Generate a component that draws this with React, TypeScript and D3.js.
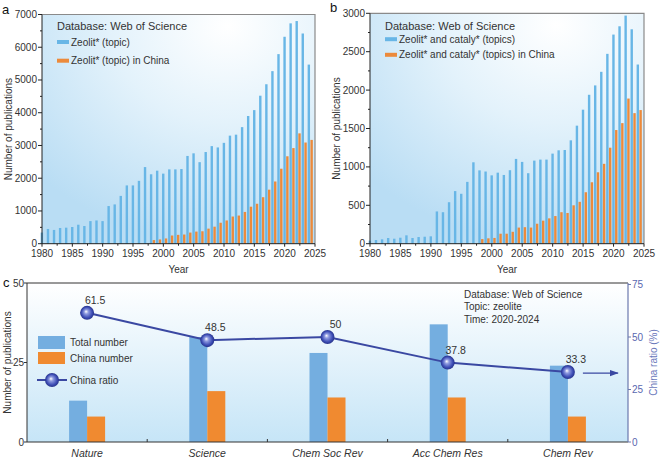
import * as d3 from 'd3';

// ---- data ----
const YEARS = d3.range(1980, 2025);
const CHINA_FROM = 1998;

// a: Zeolit* (topic)
const ZEOLITE_ALL = [
  340, 450, 420, 480, 490, 510, 580, 540, 690, 710, 690,
  1150, 1200, 1460, 1780, 1780, 1920, 2340, 2120, 2230, 2140,
  2270, 2270, 2280, 2680, 2760, 2490, 2800, 2980, 2940, 3080,
  3300, 3330, 3560, 3900, 4080, 4520, 4870, 5270, 5790, 6320,
  6730, 6800, 6420, 5470
];
const ZEOLITE_CHINA = [
  110, 130, 160, 250, 270, 280, 340, 370, 380, 460, 520, 640, 710, 830,
  860, 970, 1130, 1220, 1420, 1650, 1900, 2290, 2670, 2920, 3370, 3090, 3170
];

// b: Zeolit* and cataly* (topics)
const CATALY_ALL = [
  40, 48, 57, 74, 65, 78, 109, 74, 87, 91, 96,
  420, 410, 540, 685, 650, 805, 1060, 955, 940, 890,
  925, 895, 957, 1104, 1065, 918, 1082, 1095, 1095, 1173,
  1216, 1220, 1346, 1537, 1745, 1939, 2061, 2238, 2472, 2723,
  2831, 2970, 2792, 2333
];
const CATALY_CHINA = [
  60, 70, 75, 130, 130, 155, 210, 215, 210, 260, 300, 330, 360, 410,
  400, 500, 545, 670, 800, 930, 1040, 1250, 1480, 1570, 1890, 1700, 1740
];

// c: journals 2020-2024
const JOURNALS = ['Nature', 'Science', 'Chem Soc Rev', 'Acc Chem Res', 'Chem Rev'];
const JOURNAL_TOTAL = [13, 33, 28, 37, 24];
const JOURNAL_CHINA = [8, 16, 14, 14, 8];
const CHINA_RATIO = [61.5, 48.5, 50, 37.8, 33.3];

const FONT = "'Liberation Sans', Arial, Helvetica, sans-serif";
const TXT = '#333';
const BLUE = '#68b6e6';
const ORANGE = '#ec8a3b';
const NAVY = '#3a48a2';

interface YearPanelProps {
  id: string;
  tag: string;
  left: number;
  right: number;
  top: number;
  bottom: number;
  yMax: number;
  yStep: number;
  total: number[];
  china: number[];
  legendAll: string;
  legendChina: string;
  legendY: number[];
}

function YearPanel({ id, tag, left, right, top, bottom, yMax, yStep, total, china, legendAll, legendChina, legendY }: YearPanelProps) {
  const x = d3.scaleLinear().domain([1980, 2025]).range([left, right]);
  const y = d3.scaleLinear().domain([0, yMax]).range([bottom, top]);
  const majorY = d3.range(0, yMax + 1, yStep);
  const minorY = d3.range(yStep / 2, yMax, yStep);
  const majorX = d3.range(1980, 2026, 5);
  const minorX = d3.range(1982.5, 2025, 5);
  const bw = 2.4;
  const lx = left + 15;

  return (
    <g>
      <defs>
        <radialGradient id={id} cx="0.68" cy="0.05" r="0.95">
          <stop offset="0" stopColor="#ffffff" />
          <stop offset="0.45" stopColor="#e3f2fb" />
          <stop offset="1" stopColor="#b9ddf4" />
        </radialGradient>
      </defs>
      <rect x={left} y={top} width={right - left} height={bottom - top} fill={`url(#${id})`} />
      {YEARS.map((yr, i) => (
        <rect key={'t' + yr} x={x(yr) - 1.3} y={y(total[i])} width={bw} height={bottom - y(total[i])} fill={BLUE} />
      ))}
      {china.map((v, i) => {
        const yr = CHINA_FROM + i;
        return <rect key={'c' + yr} x={x(yr) + 1.5} y={y(v)} width={bw} height={bottom - y(v)} fill={ORANGE} />;
      })}
      {/* frame */}
      <path d={`M${left},${top}H${right}V${bottom}`} fill="none" stroke="#8a8a8a" strokeWidth={1.2} />
      <line x1={left} x2={left} y1={top} y2={bottom} stroke="#222" strokeWidth={1} />
      <line x1={left} x2={right} y1={bottom} y2={bottom} stroke="#222" strokeWidth={1} />
      {majorY.map(v => (
        <g key={'my' + v}>
          <line x1={left - 4} x2={left} y1={y(v)} y2={y(v)} stroke="#222" />
          <text x={left - 5} y={y(v) + 3.5} textAnchor="end" fontSize={10} fill={TXT}>{v}</text>
        </g>
      ))}
      {minorY.map(v => (
        <line key={'ny' + v} x1={left - 2} x2={left} y1={y(v)} y2={y(v)} stroke="#222" />
      ))}
      {majorX.map(v => (
        <g key={'mx' + v}>
          <line x1={x(v)} x2={x(v)} y1={bottom} y2={bottom + 3} stroke="#222" />
          <text x={x(v)} y={bottom + 13} textAnchor="middle" fontSize={10} fill={TXT}>{v}</text>
        </g>
      ))}
      {minorX.map(v => (
        <line key={'nx' + v} x1={x(v)} x2={x(v)} y1={bottom} y2={bottom + 2} stroke="#222" />
      ))}
      <text x={(left + right) / 2} y={bottom + 29} textAnchor="middle" fontSize={10} fill={TXT}>Year</text>
      <text transform={`translate(${left - 30},${(top + bottom) / 2}) rotate(-90)`} textAnchor="middle" fontSize={10} fill={TXT}>
        Number of publications
      </text>
      <text x={left - 40} y={top - 1} fontSize={13} fill="#111">{tag}</text>
      {/* legend */}
      <text x={lx} y={legendY[0] + 4} fontSize={11} fill={TXT}>Database: Web of Science</text>
      <rect x={lx} y={legendY[1] - 2} width={12} height={4} fill={BLUE} />
      <text x={lx + 14} y={legendY[1] + 3.5} fontSize={10} fill={TXT}>{legendAll}</text>
      <rect x={lx} y={legendY[2] - 2} width={12} height={4} fill={ORANGE} />
      <text x={lx + 14} y={legendY[2] + 3.5} fontSize={10} fill={TXT}>{legendChina}</text>
    </g>
  );
}

function JournalPanel() {
  const left = 27;
  const right = 628;
  const top = 283;
  const bottom = 442;
  const x = d3.scaleBand<string>().domain(JOURNALS).range([left, right]).padding(0);
  const yL = d3.scaleLinear().domain([0, 50]).range([bottom, top]);
  const yR = d3.scaleLinear().domain([0, 75]).range([bottom, top + 1.5]);
  const cx = (j: string) => (x(j) ?? 0) + x.bandwidth() / 2;
  const bw = 18;
  const line = d3.line<number>()
    .x((_, i) => cx(JOURNALS[i]))
    .y(v => yR(v));
  const last = JOURNALS.length - 1;
  const ax = cx(JOURNALS[last]) + 15;
  const ay = yR(CHINA_RATIO[last]) + 1;

  const sphere = (px: number, py: number, r: number, key: string) => (
    <circle key={key} cx={px} cy={py} r={r} fill="url(#sphere)" />
  );

  return (
    <g>
      <defs>
        <linearGradient id="bgc" x1="0" y1="0" x2="0" y2="1">
          <stop offset="0" stopColor="#ffffff" />
          <stop offset="1" stopColor="#c6e5f7" />
        </linearGradient>
        <radialGradient id="sphere" cx="0.5" cy="0.5" r="0.5" fx="0.42" fy="0.4">
          <stop offset="0" stopColor="#ffffff" />
          <stop offset="0.3" stopColor="#8f9be0" />
          <stop offset="0.75" stopColor="#3d4db5" />
          <stop offset="1" stopColor="#27338a" />
        </radialGradient>
        <marker id="arr" viewBox="0 0 10 10" refX="9" refY="5" markerWidth="7" markerHeight="7" orient="auto">
          <path d="M0,1.5L10,5L0,8.5z" fill={NAVY} />
        </marker>
      </defs>
      <rect x={left} y={top} width={right - left} height={bottom - top} fill="url(#bgc)" />
      {JOURNALS.map((j, i) => (
        <g key={j}>
          <rect x={cx(j) - bw} y={yL(JOURNAL_TOTAL[i])} width={bw} height={bottom - yL(JOURNAL_TOTAL[i])} fill="#74aee0" />
          <rect x={cx(j)} y={yL(JOURNAL_CHINA[i])} width={bw} height={bottom - yL(JOURNAL_CHINA[i])} fill="#f08a30" />
        </g>
      ))}
      <line x1={left} x2={right} y1={top} y2={top} stroke="#333" strokeWidth={1} />
      <line x1={left} x2={left} y1={top} y2={bottom} stroke="#333" />
      <line x1={left} x2={right} y1={bottom} y2={bottom} stroke="#333" />
      <line x1={right} x2={right} y1={top} y2={bottom} stroke="#6b78ad" strokeWidth={1.2} />
      {[0, 25, 50].map(v => (
        <g key={'l' + v}>
          <line x1={left - 3} x2={left} y1={yL(v)} y2={yL(v)} stroke="#333" />
          <text x={left - 3} y={yL(v) + 3.5} textAnchor="end" fontSize={10} fill={TXT}>{v}</text>
        </g>
      ))}
      {[0, 25, 50, 75].map(v => (
        <g key={'r' + v}>
          <line x1={right} x2={right + 3} y1={yR(v)} y2={yR(v)} stroke="#6b78ad" />
          <text x={right + 4} y={yR(v) + 3.5} fontSize={10} fill="#5a68b0">{v}</text>
        </g>
      ))}
      {JOURNALS.slice(1).map(j => (
        <line key={'b' + j} x1={x(j)} x2={x(j)} y1={bottom} y2={bottom - 3} stroke="#333" />
      ))}
      {JOURNALS.map(j => (
        <text key={'xl' + j} x={cx(j)} y={bottom + 15} textAnchor="middle" fontSize={10.5} fontStyle="italic" fill={TXT}>{j}</text>
      ))}
      <text transform={`translate(11,${(top + bottom) / 2}) rotate(-90)`} textAnchor="middle" fontSize={10} fill={TXT}>
        Number of publications
      </text>
      <text transform={`translate(657,${(top + bottom) / 2}) rotate(-90)`} textAnchor="middle" fontSize={10} fill="#6a78bb">
        China ratio (%)
      </text>
      <text x={3} y={287} fontSize={13} fill="#111">c</text>
      {/* ratio line */}
      <path d={line(CHINA_RATIO) ?? ''} fill="none" stroke={NAVY} strokeWidth={2} />
      <line x1={ax} x2={ax + 35} y1={ay} y2={ay} stroke={NAVY} strokeWidth={1.3} markerEnd="url(#arr)" />
      {CHINA_RATIO.map((v, i) => sphere(cx(JOURNALS[i]), yR(v), 7, 's' + i))}
      {CHINA_RATIO.map((v, i) => (
        <text key={'rv' + i} x={cx(JOURNALS[i]) + 8} y={yR(v) - 9} textAnchor="middle" fontSize={10.5} fill={TXT}>{v}</text>
      ))}
      {/* legend */}
      <rect x={38} y={336} width={27} height={13} fill="#74aee0" />
      <text x={70} y={346} fontSize={10} fill={TXT}>Total number</text>
      <rect x={38} y={352} width={27} height={12} fill="#f08a30" />
      <text x={70} y={361.5} fontSize={10} fill={TXT}>China number</text>
      <line x1={37} x2={67} y1={380} y2={380} stroke={NAVY} strokeWidth={2} />
      {sphere(52, 380, 7, 'leg')}
      <text x={70} y={383.5} fontSize={10} fill={TXT}>China ratio</text>
      {/* note */}
      <text x={464} y={297.5} fontSize={10} fill={TXT}>Database: Web of Science</text>
      <text x={464} y={310} fontSize={10} fill={TXT}>Topic: zeolite</text>
      <text x={464} y={322.5} fontSize={10} fill={TXT}>Time: 2020-2024</text>
    </g>
  );
}

export default function App() {
  return (
    <svg width={661} height={460} style={{ position: 'fixed', left: 0, top: 0, background: '#fff' }} fontFamily={FONT}>
      <rect width={661} height={460} fill="#fff" />
      <YearPanel
        id="bga" tag="a" left={42} right={315} top={14.5} bottom={243.7}
        yMax={7000} yStep={1000} total={ZEOLITE_ALL} china={ZEOLITE_CHINA}
        legendAll="Zeolit* (topic)" legendChina="Zeolit* (topic) in China"
        legendY={[25.7, 42, 60.7]}
      />
      <YearPanel
        id="bgb" tag="b" left={370} right={644} top={13.3} bottom={243.7}
        yMax={3000} yStep={500} total={CATALY_ALL} china={CATALY_CHINA}
        legendAll="Zeolit* and cataly* (topics)" legendChina="Zeolit* and cataly* (topics) in China"
        legendY={[25.7, 39.2, 54.8]}
      />
      <JournalPanel />
    </svg>
  );
}
